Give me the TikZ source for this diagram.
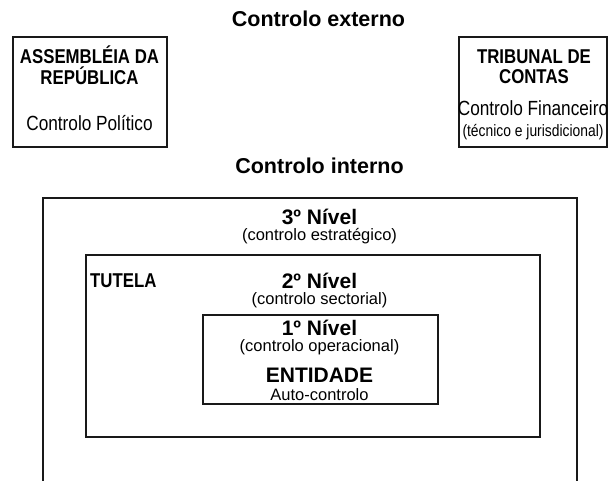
\documentclass[tikz,border=0pt]{standalone}
\usepackage{fontspec}
\setmainfont{Liberation Sans}
\newfontfamily\narrowfont{Liberation Sans}[FakeStretch=0.84]
\usetikzlibrary
  {
    positioning,              % place nodes relative to other nodes
  }

\begin{document}
\begin{tikzpicture}
    [
      x=1pt, y=-1pt,
      frame/.style=
        {
          draw=black!90,
          line width=2pt,
        },
      title/.style=
        {
          font=\bfseries\fontsize{21.5}{25}\selectfont,
          anchor=base,
          inner sep=0pt,
        },
      heading/.style=
        {
          font=\bfseries\fontsize{21}{25}\selectfont,
          anchor=base,
          inner sep=0pt,
        },
      note/.style=
        {
          font=\fontsize{16.5}{19}\selectfont,
          anchor=base,
          inner sep=0pt,
        },
      boxhead/.style=
        {
          font=\narrowfont\bfseries\fontsize{20}{24}\selectfont,
          anchor=base,
          inner sep=0pt,
        },
      boxtext/.style=
        {
          font=\narrowfont\fontsize{20.5}{24}\selectfont,
          anchor=base,
          inner sep=0pt,
        },
      boxnote/.style=
        {
          font=\narrowfont\fontsize{16.5}{19}\selectfont,
          anchor=base,
          inner sep=0pt,
        },
    ]
    \useasboundingbox (0,0) rectangle (608,480);

    % external control
    \node[title] (external) at (318.5,26.7) {Controlo externo};

    \draw[frame] (12.7,36.7) rectangle (166.7,147);
    \node[boxhead] (assembly)  at (89.5,63.3)  {ASSEMBLÉIA DA};
    \node[boxhead] (republic)  at (89.5,84)    {REPÚBLICA};
    \node[boxtext] (political) at (89.5,130.7) {Controlo Político};

    \draw[frame] (459.3,36.7) rectangle (606.5,147.3);
    \node[boxhead] (court)     at (534,63.3)  {TRIBUNAL DE};
    \node[boxhead] (accounts)  at (534,83.3)  {CONTAS};
    \node[boxtext] (financial) at (533,115)   {Controlo Financeiro};
    \node[boxnote] (technical) at (533,136.7) {(técnico e jurisdicional)};

    % internal control
    \node[title] (internal) at (319.5,173.3) {Controlo interno};

    \draw[frame] (43,198) rectangle (577,495);
    \node[heading] (level3)    at (319.5,224)   {3º Nível};
    \node[note]    (strategic) at (319.5,240)   {(controlo estratégico)};

    \draw[frame] (85.5,255) rectangle (540,437);
    \node[boxhead] (tutela) [anchor=base west] at (90,287.3) {TUTELA};
    \node[heading] (level2)   at (319.5,288.3) {2º Nível};
    \node[note]    (sectoral) at (319.5,304)   {(controlo sectorial)};

    \draw[frame] (202.5,315) rectangle (438,404);
    \node[heading] (level1)      at (319.5,335)   {1º Nível};
    \node[note]    (operational) at (319.5,351.7) {(controlo operacional)};
    \node[heading] (entity)      at (319.5,382.8) {ENTIDADE};
    \node[note]    (selfcontrol) at (319.5,400)   {Auto-controlo};
\end{tikzpicture}
\end{document}
